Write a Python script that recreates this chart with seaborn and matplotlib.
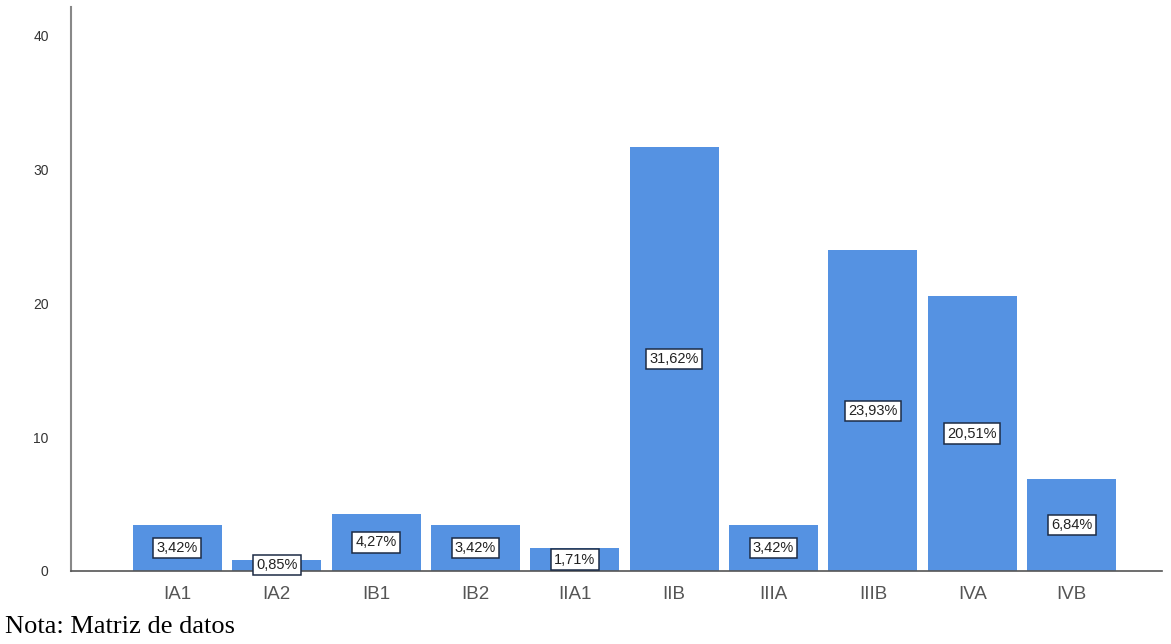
import matplotlib
matplotlib.use("Agg")
import matplotlib.pyplot as plt
import seaborn as sns
import pandas as pd

categories = ["IA1", "IA2", "IB1", "IB2", "IIA1", "IIB", "IIIA", "IIIB", "IVA", "IVB"]
values = [3.42, 0.85, 4.27, 3.42, 1.71, 31.62, 3.42, 23.93, 20.51, 6.84]
y_ticks = [0, 10, 20, 30, 40]
note = "Nota: Matriz de datos"

sns.set_style("white")
plt.rcParams["font.family"] = ["Liberation Sans", "DejaVu Sans"]

df = pd.DataFrame({"cat": categories, "val": values})

fig = plt.figure(figsize=(11.71, 6.44), dpi=100)
ax = fig.add_axes([0.0606, 0.1134, 0.9314, 0.8756])

sns.barplot(data=df, x="cat", y="val", color="#5592E2", saturation=1,
            width=0.895, ax=ax, linewidth=0)

for i, v in enumerate(values):
    ax.text(i, v / 2, f"{v:.2f}".replace(".", ",") + "%", ha="center", va="center",
            fontsize=10.5, color="#222222",
            bbox=dict(boxstyle="square,pad=0.22", facecolor="white",
                      edgecolor="#1c2b45", linewidth=1.1))

ax.set_xlim(-1.07, 9.905)
ax.set_ylim(0, 42.1)
ax.set_yticks(y_ticks)
ax.set_yticklabels([str(t) for t in y_ticks], fontsize=10, color="#333333")
ax.tick_params(axis="x", labelsize=13.5, labelcolor="#555555", length=0, pad=11)
ax.tick_params(axis="y", length=0, pad=16)
ax.set_xlabel("")
ax.set_ylabel("")

for s in ["top", "right"]:
    ax.spines[s].set_visible(False)
ax.spines["left"].set_color("#888888")
ax.spines["bottom"].set_color("#555555")
ax.spines["left"].set_linewidth(1.5)
ax.spines["bottom"].set_linewidth(1.2)

fig.text(5 / 1171, 1 - 627 / 644, note, fontsize=19, family=["Liberation Serif"],
         color="black", ha="left", va="center")

fig.savefig("out.png", dpi=100, facecolor="white")
